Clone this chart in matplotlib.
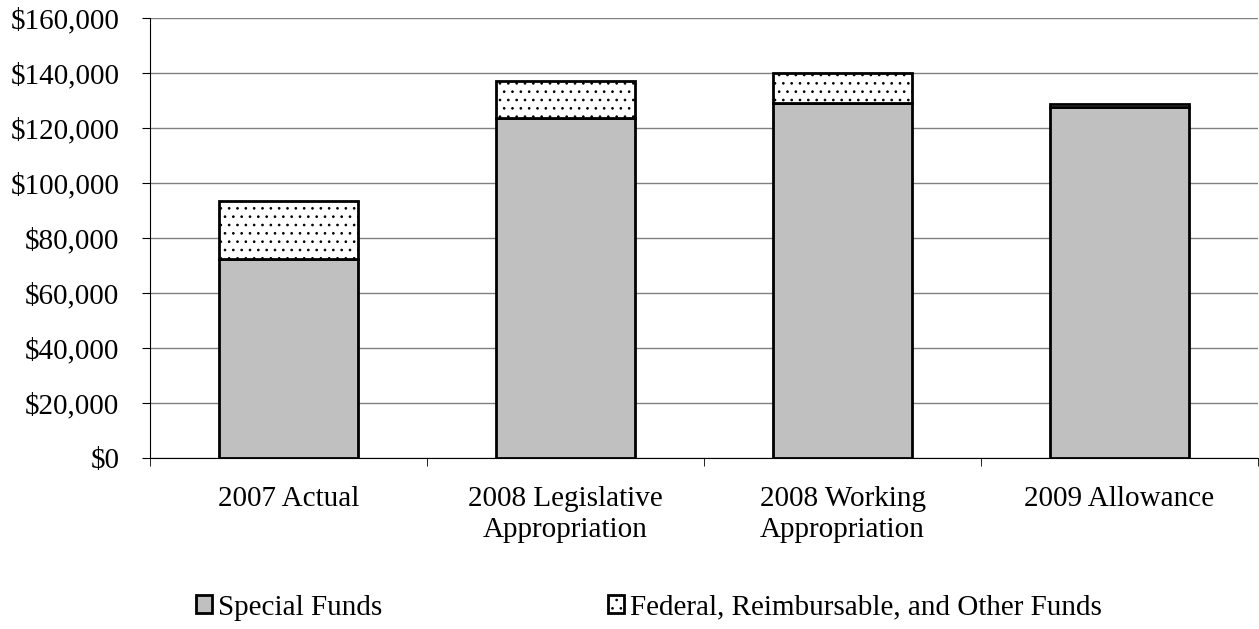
import matplotlib
matplotlib.use("Agg")
import matplotlib.pyplot as plt
from matplotlib.ticker import FuncFormatter
import numpy as np

categories = ["2007 Actual", "2008 Legislative\nAppropriation",
              "2008 Working\nAppropriation", "2009 Allowance"]
special_funds = [72400, 123800, 129000, 127700]
other_funds = [21100, 13400, 11000, 1000]

plt.rcParams['font.family'] = ['Liberation Serif', 'DejaVu Serif']
plt.rcParams['hatch.linewidth'] = 0.7

fig = plt.figure(figsize=(12.59, 6.29), dpi=100)
ax = fig.add_axes([150 / 1259, 1 - 458 / 629, 1108 / 1259, 440 / 629])

x = np.arange(len(categories))
ax.bar(x, special_funds, width=0.5, color="#c0c0c0", edgecolor="black",
       linewidth=2, label="Special Funds", zorder=3)
ax.bar(x, other_funds, width=0.5, bottom=special_funds, color="white",
       edgecolor="black", linewidth=2, hatch="..",
       label="Federal, Reimbursable, and Other Funds", zorder=3)

ax.set_xlim(-0.5, len(categories) - 0.5)
ax.set_ylim(0, 160000)
ax.set_yticks(np.arange(0, 160001, 20000))
ax.yaxis.set_major_formatter(FuncFormatter(lambda v, p: "${:,.0f}".format(v)))
ax.grid(axis="y", color="#808080", linewidth=1, zorder=0)

ax.set_xticks(x)
ax.set_xticklabels(categories, linespacing=1.25)
ax.set_xticks(np.arange(-0.5, len(categories)), minor=True)
ax.tick_params(axis="x", which="major", length=0, pad=20, labelsize=21)
ax.tick_params(axis="x", which="minor", length=6, color="black", direction="out")
ax.tick_params(axis="y", labelsize=21, length=6, color="black", direction="out", pad=16)

for side in ["top", "right"]:
    ax.spines[side].set_visible(False)
ax.spines["left"].set_color("black")
ax.spines["bottom"].set_color("black")

ax.legend(loc="center left", bbox_to_anchor=(0.0415, -0.34), ncol=2, frameon=False,
          fontsize=21, handlelength=0.55, handleheight=0.55, handletextpad=0.2,
          columnspacing=7.75, borderaxespad=0, borderpad=0)

fig.savefig("out.png", dpi=100)
